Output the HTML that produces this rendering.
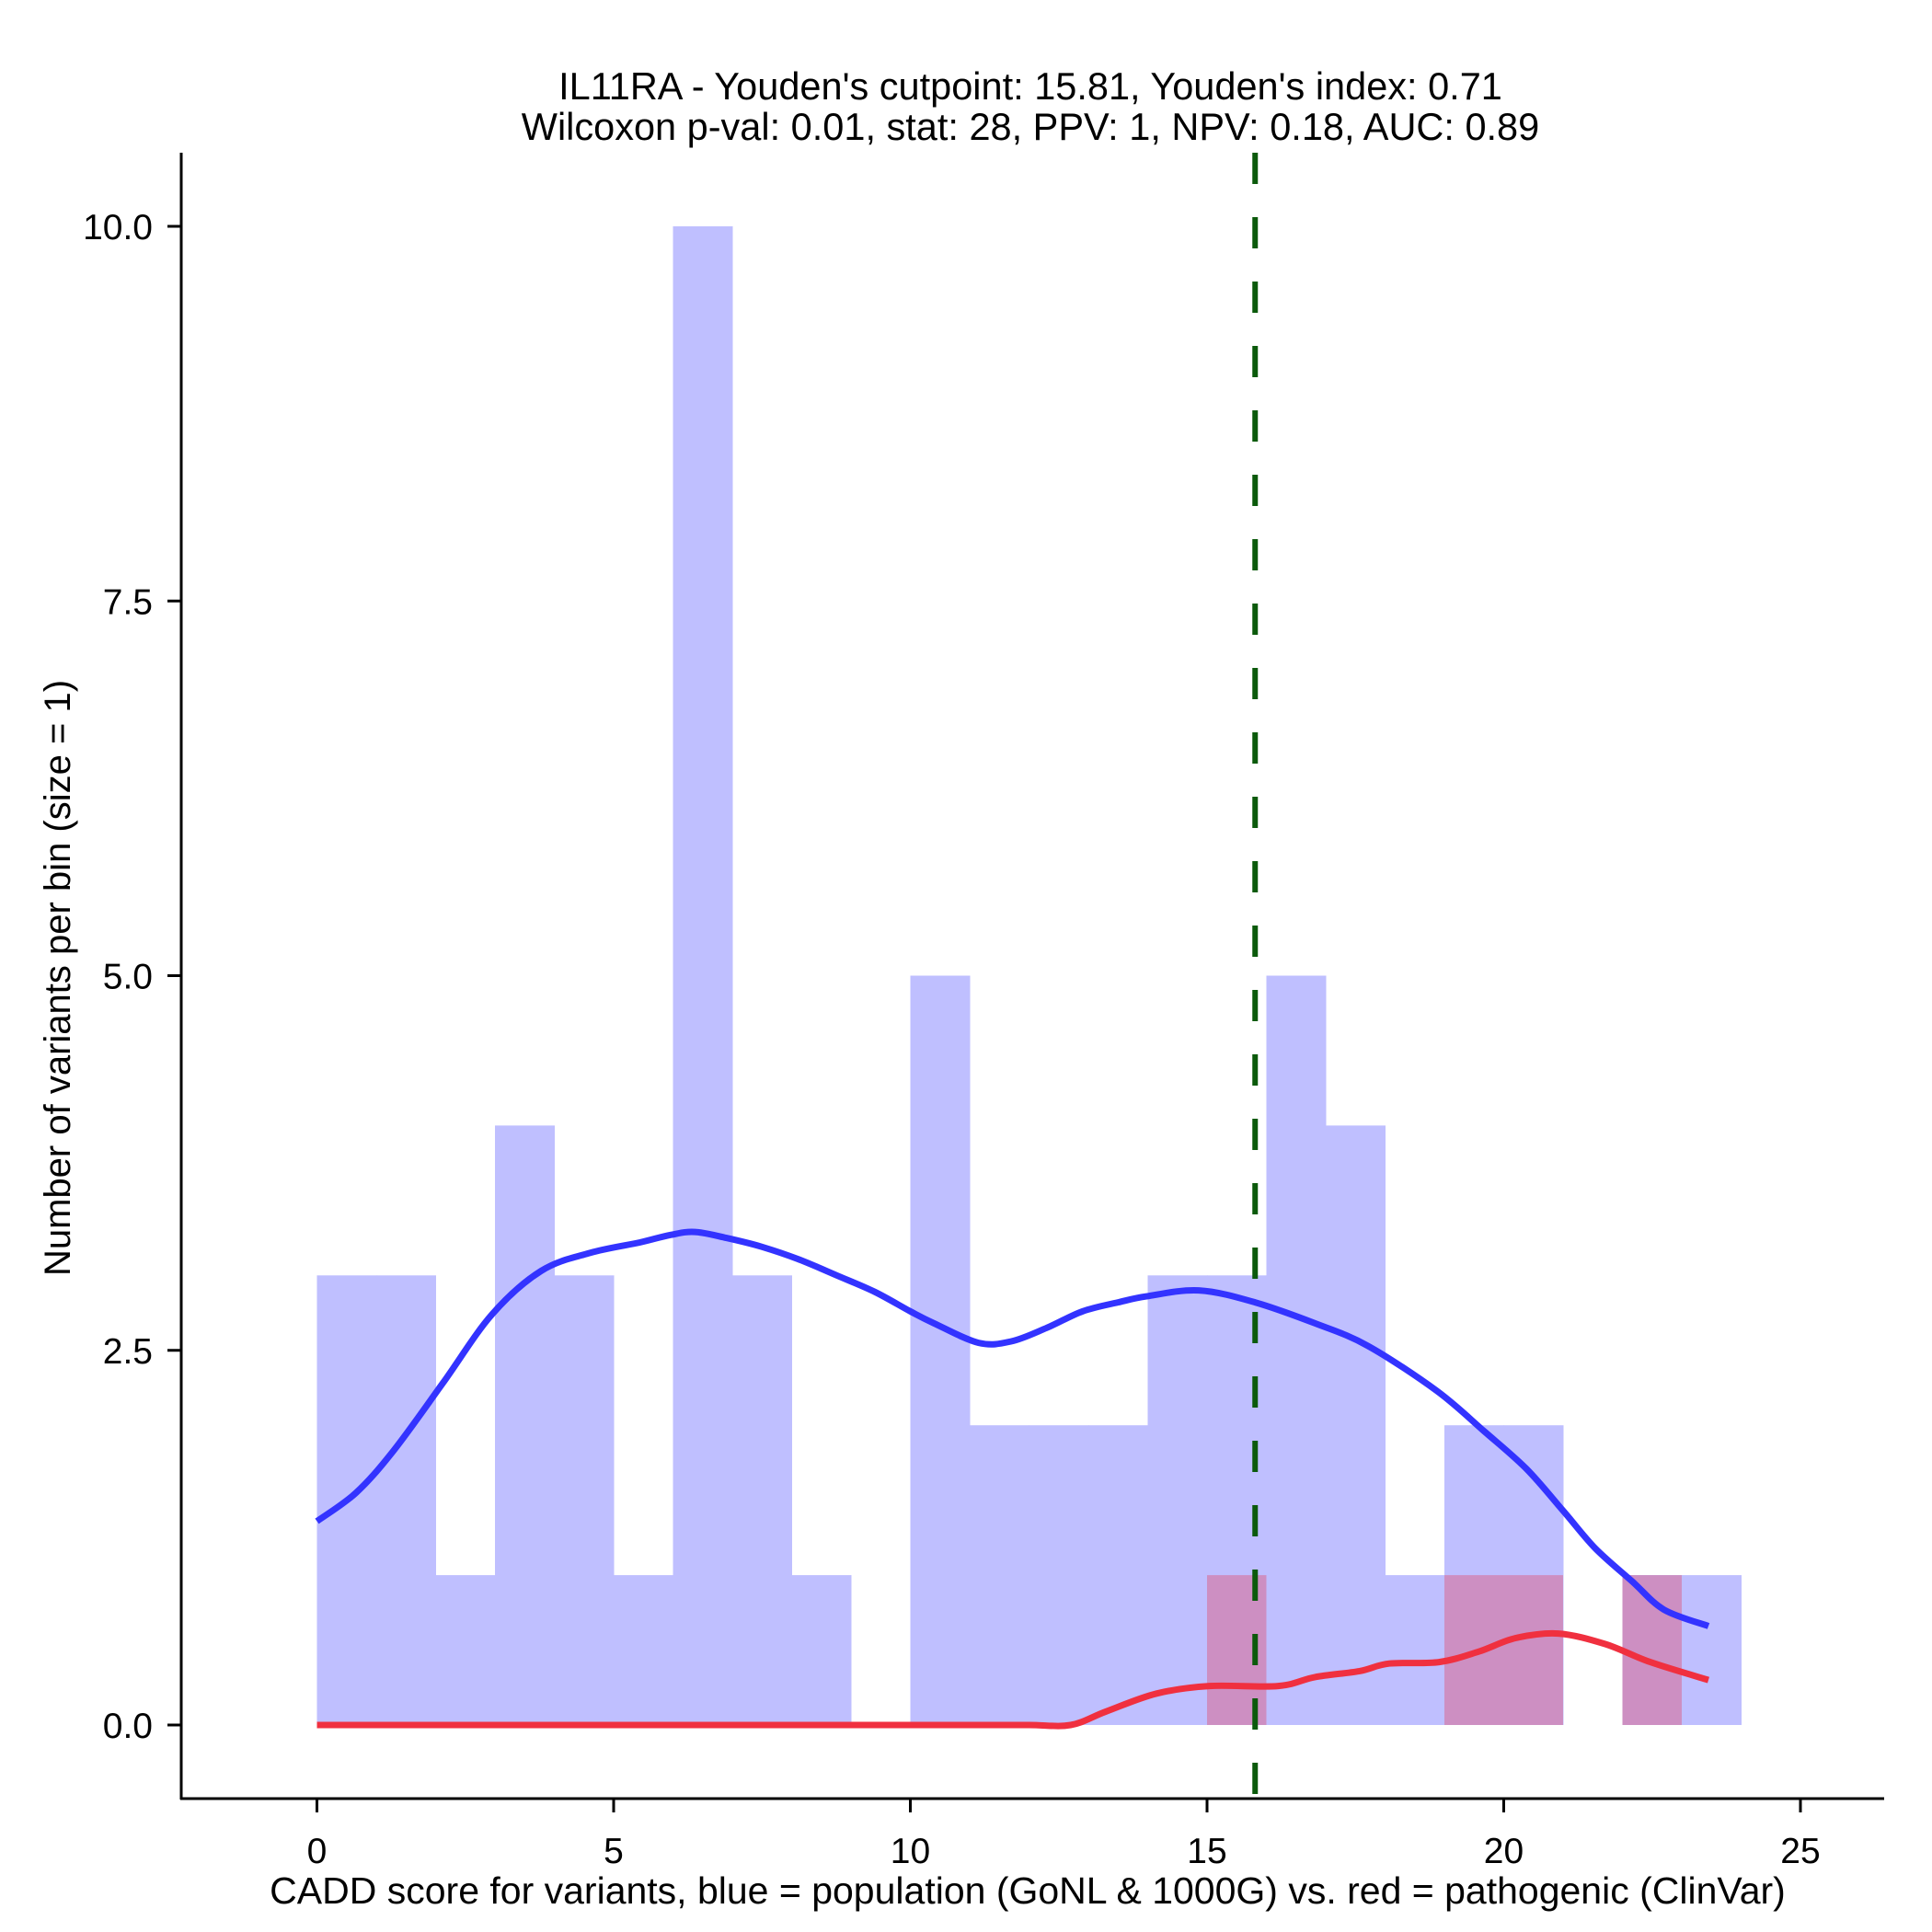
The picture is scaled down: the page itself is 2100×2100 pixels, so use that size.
<!DOCTYPE html>
<html><head><meta charset="utf-8"><style>
html,body{margin:0;padding:0;background:#fff}
svg{display:block;font-family:"Liberation Sans",Arial,sans-serif}
</style></head><body>
<svg id="chart" width="2100" height="2100" viewBox="0 0 2100 2100">
<g id="bars"></g>
<g id="curves"></g>
<g id="axes"></g>
<text x="1120" y="108" text-anchor="middle" font-size="41.5">IL11RA - Youden's cutpoint: 15.81, Youden's index: 0.71</text>
<text x="1120" y="152" text-anchor="middle" font-size="41.5">Wilcoxon p-val: 0.01, stat: 28, PPV: 1, NPV: 0.18, AUC: 0.89</text>
<text x="1117" y="2069" text-anchor="middle" font-size="41">CADD score for variants, blue = population (GoNL &amp; 1000G) vs. red = pathogenic (ClinVar)</text>
<text transform="translate(76,1063) rotate(-90)" text-anchor="middle" font-size="40">Number of variants per bin (size = 1)</text>
</svg>
<script>
const blueCounts=[3,3,1,4,3,1,10,3,1,0,5,2,2,2,3,3,5,4,1,2,2,0,1,1];
const redCounts=[0,0,0,0,0,0,0,0,0,0,0,0,0,0,0,1,0,0,0,1,1,0,1,0];
const blueX=[0,0.66,1.29,2.12,2.95,3.78,4.6,5.44,5.96,6.37,6.9,7.5,8.1,8.76,9.4,10,10.4,11.15,11.7,12.3,12.9,13.5,13.98,14.86,15.81,16.82,17.71,18.87,19.67,20.38,21.0,21.54,22.16,22.7,23.45];
const blueY=[1.36,1.55,1.83,2.28,2.74,3.03,3.15,3.22,3.27,3.29,3.25,3.19,3.11,3.0,2.89,2.76,2.68,2.55,2.56,2.65,2.76,2.82,2.86,2.9,2.82,2.68,2.53,2.23,1.96,1.71,1.43,1.18,0.96,0.77,0.66];
const redX=[0,1,2,3,4,5,6,7,8,9,10,11,12,12.7,13.3,14.15,15.04,16.2,16.82,17.57,18.07,18.91,19.58,20.2,20.92,21.71,22.47,23.45];
const redY=[0,0,0,0,0,0,0,0,0,0,0,0,0,0,0.09,0.21,0.26,0.26,0.32,0.36,0.41,0.42,0.49,0.58,0.61,0.54,0.42,0.30];
const xTicks=[0,5,10,15,20,25];
const yTicks=[0,2.5,5,7.5,10];
const yTickLabels=["0.0","2.5","5.0","7.5","10.0"];
const cutpoint=15.81;

const NS="http://www.w3.org/2000/svg";
const X=v=>344.5+v*64.5;
const Y=v=>1875-v*162.9;
function mk(p,tag,attrs){const e=document.createElementNS(NS,tag);for(const k in attrs)e.setAttribute(k,attrs[k]);p.appendChild(e);return e;}
const bars=document.getElementById('bars'),curves=document.getElementById('curves'),axes=document.getElementById('axes');
blueCounts.forEach((c,i)=>{if(!c)return;
 const r=mk(bars,'rect',{x:X(i),y:Y(c),width:X(i+1)-X(i)+0.5,height:Y(0)-Y(c),fill:'#bfbfff'});
 
 });
redCounts.forEach((c,i)=>{if(!c)return;
 const overlap=Math.min(c,blueCounts[i]);
 const r=mk(bars,'rect',{x:X(i),y:Y(overlap),width:X(i+1)-X(i),height:Y(0)-Y(overlap),fill:'#cd8fc2'});
 
 });
function path(xs,ys){
 const P=xs.map((x,i)=>[X(x),Y(ys[i])]);
 let d='M'+P[0][0].toFixed(1)+' '+P[0][1].toFixed(1);
 for(let i=0;i<P.length-1;i++){
  const p0=P[Math.max(0,i-1)],p1=P[i],p2=P[i+1],p3=P[Math.min(P.length-1,i+2)];
  const c1=[p1[0]+(p2[0]-p0[0])/6,p1[1]+(p2[1]-p0[1])/6];
  const c2=[p2[0]-(p3[0]-p1[0])/6,p2[1]-(p3[1]-p1[1])/6];
  d+='C'+c1.map(v=>v.toFixed(1)).join(' ')+' '+c2.map(v=>v.toFixed(1)).join(' ')+' '+p2[0].toFixed(1)+' '+p2[1].toFixed(1);
 }
 return d;}
const bp=mk(curves,'path',{d:path(blueX,blueY),fill:'none',stroke:'#3333ff',"stroke-width":7,"stroke-linejoin":"round"});


const rp=mk(curves,'path',{d:path(redX,redY),fill:'none',stroke:'#f0303f',"stroke-width":7,"stroke-linejoin":"round"});


const cl=mk(curves,'line',{x1:X(cutpoint),x2:X(cutpoint),y1:166,y2:1955,stroke:'#0b5a0b',"stroke-width":6,"stroke-dasharray":"34 36"});


const ya=mk(axes,'line',{x1:197,x2:197,y1:166,y2:1956,stroke:'#000',"stroke-width":3});


const xa=mk(axes,'line',{x1:196,x2:2048,y1:1955,y2:1955,stroke:'#000',"stroke-width":3});


xTicks.forEach(t=>{
 const l=mk(axes,'line',{x1:X(t),x2:X(t),y1:1955,y2:1970,stroke:'#000',"stroke-width":3});
 
 
 const tx=mk(axes,'text',{x:X(t),y:2025,"text-anchor":"middle","font-size":39});
 tx.textContent=t;
 
 });
yTicks.forEach((t,i)=>{
 const l=mk(axes,'line',{x1:182,x2:197,y1:Y(t),y2:Y(t),stroke:'#000',"stroke-width":3});
 
 
 const tx=mk(axes,'text',{x:166,y:Y(t)+14,"text-anchor":"end","font-size":39});
 tx.textContent=yTickLabels[i];
 
 });
</script>
</body></html>
